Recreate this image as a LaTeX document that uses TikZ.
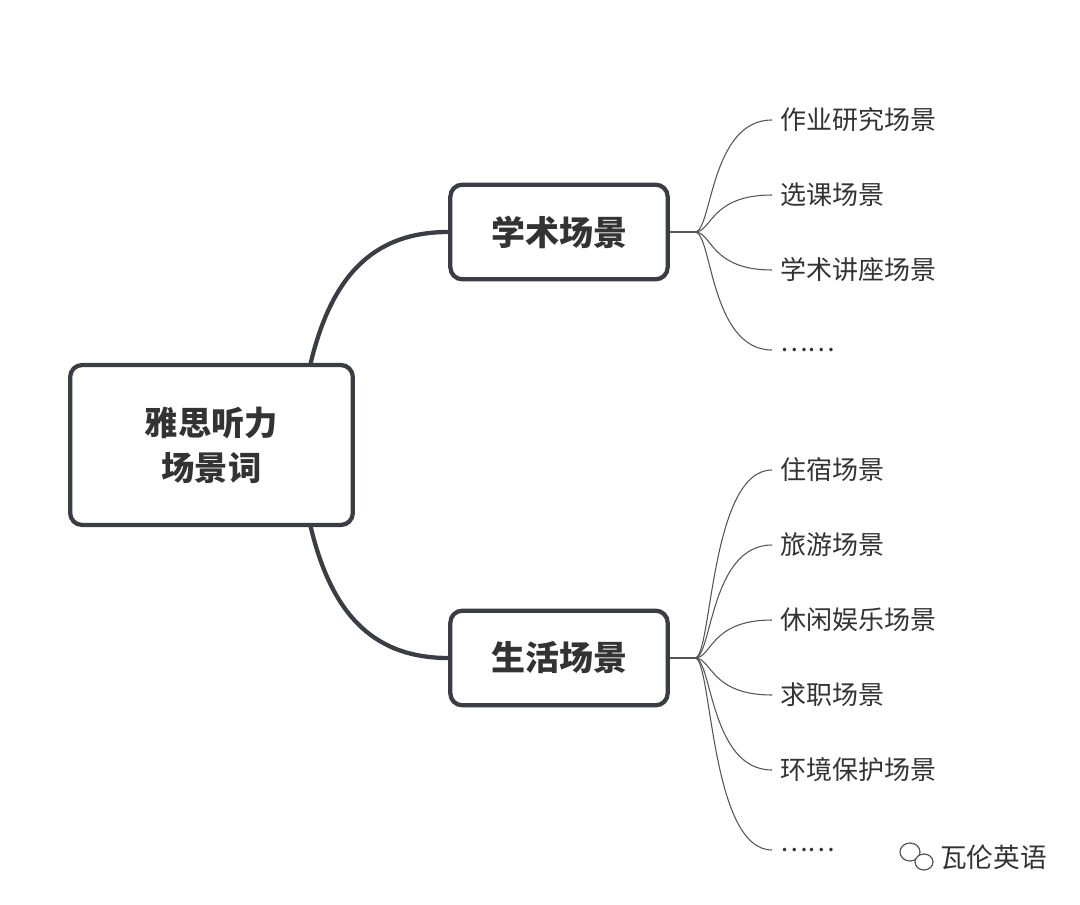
\documentclass[tikz,border=0pt]{standalone}
\usepackage{fontspec}
\newfontfamily\cjk{Noto Sans CJK SC}
\definecolor{bd}{HTML}{3A3D44}
\definecolor{tx}{HTML}{333333}
\definecolor{ln}{HTML}{555555}
\tikzset{x=0.75pt,y=-0.75pt,
 box/.style={draw=bd,line width=3.2pt,rounded corners=9pt,fill=white,text=tx,align=center,inner sep=0pt},
 leaf/.style={anchor=west,text=tx,font=\cjk\fontsize{19.5}{22}\selectfont,inner sep=0pt},
 big/.style={line width=3.2pt,draw=bd},
 thin/.style={line width=0.8pt,draw=ln}}
\begin{document}
\begin{tikzpicture}
\useasboundingbox (0,0) rectangle (1080,905);
\node[box,minimum width=212pt,minimum height=120pt,font=\cjk\bfseries\fontsize{25}{34}\selectfont] (root) at (211.5,445) {雅思听力\\场景词};
\node[box,minimum width=163pt,minimum height=71pt,font=\cjk\bfseries\fontsize{25.5}{28}\selectfont] (ac) at (559,232) {学术场景};
\node[box,minimum width=163pt,minimum height=71pt,font=\cjk\bfseries\fontsize{25.5}{28}\selectfont] (li) at (559,658) {生活场景};
\coordinate (rt) at (310,366);
\coordinate (rb) at (310,524);
\draw[big] (rt) .. controls (330,280) and (370,232) .. (ac.west);
\draw[big] (rb) .. controls (330,610) and (370,658) .. (li.west);
\coordinate (ah) at (695,232);
\coordinate (lh) at (695,658);
\draw[thin] (ac.east) -- (ah);
\draw[thin] (li.east) -- (lh);
\foreach \n/\y/\t in {a1/120/作业研究场景,a2/195/选课场景,a3/270/学术讲座场景,a4/350/……}{
  \node[leaf] (\n) at (780,\y) {\t};
  \coordinate (\n e) at (772,\y);
  \draw[thin] (ah) .. controls (712,232) and (710,\y) .. (\n e);
}
\foreach \n/\y/\t in {b1/470/住宿场景,b2/545/旅游场景,b3/620/休闲娱乐场景,b4/695/求职场景,b5/770/环境保护场景,b6/850/……}{
  \node[leaf] (\n) at (780,\y) {\t};
  \coordinate (\n e) at (772,\y);
  \draw[thin] (lh) .. controls (712,658) and (710,\y) .. (\n e);
}
\node[anchor=west,text=tx,font=\cjk\fontsize{20}{22}\selectfont,inner sep=0pt] (wm) at (940,857) {瓦伦英语};
\draw[ln,line width=0.9pt] (910,852) ellipse (10 and 9);
\draw[ln,line width=0.9pt,fill=white] (924,862) ellipse (9 and 8);
\end{tikzpicture}
\end{document}
